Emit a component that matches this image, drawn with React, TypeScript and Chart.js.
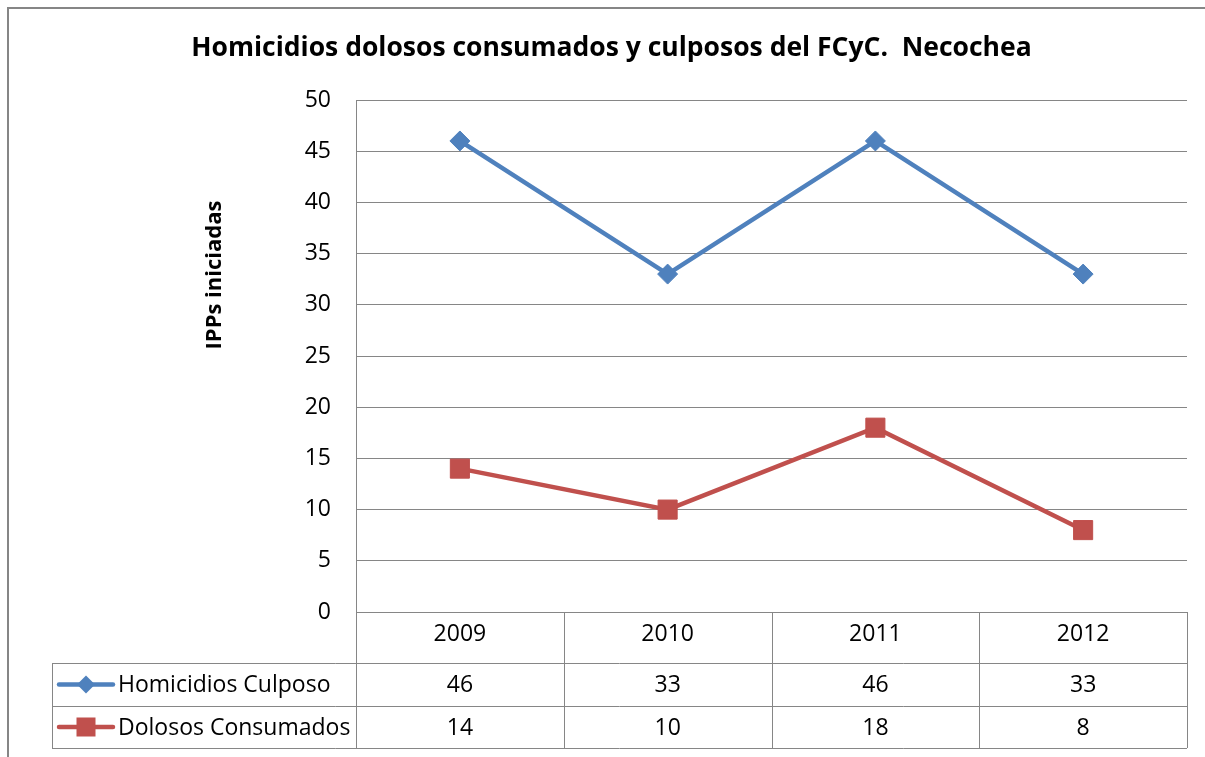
import React, { useEffect, useRef } from "react";
import { Chart, registerables } from "chart.js";

Chart.register(...registerables);

const titleText = "Homicidios dolosos consumados y culposos del FCyC.  Necochea";
const yAxisTitle = "IPPs iniciadas";
const categories = ["2009", "2010", "2011", "2012"];
const seriesNames = ["Homicidios Culposo", "Dolosos Consumados"];
const homicidiosCulposo = [46, 33, 46, 33];
const dolososConsumados = [14, 10, 18, 8];
const yMin = 0;
const yMax = 50;
const yStep = 5;

const FONT = "'Open Sans', 'Noto Sans', sans-serif";
const BODY = 23;
const GRID = "#868686";
const BLUE = "#4F81BD";
const RED = "#C0504D";

const decorPlugin = {
  id: "decor",
  afterDraw(chart: any) {
    const ctx = chart.ctx;
    const area = chart.chartArea;
    const xs = chart.scales.x;
    const n = categories.length;
    const colW = (area.right - area.left) / n;
    const top = area.bottom;
    const hdrB = top + 51;
    const r1B = top + 94;
    const r2B = top + 136;
    const legL = 52;
    ctx.save();
    // outer border
    ctx.strokeStyle = GRID;
    ctx.lineWidth = 2;
    ctx.strokeRect(8, 8, 1400, 1000);
    // y axis title
    ctx.save();
    ctx.translate(215, 275);
    ctx.rotate(-Math.PI / 2);
    ctx.fillStyle = "#000";
    ctx.font = "bold 22px " + FONT;
    ctx.textAlign = "center";
    ctx.textBaseline = "middle";
    ctx.fillText(yAxisTitle, 0, 0);
    ctx.restore();
    // table lines
    ctx.strokeStyle = GRID;
    ctx.lineWidth = 1;
    const h = (x1: number, x2: number, y: number) => {
      ctx.beginPath();
      ctx.moveTo(x1, Math.round(y) + 0.5);
      ctx.lineTo(x2, Math.round(y) + 0.5);
      ctx.stroke();
    };
    const v = (x: number, y1: number, y2: number) => {
      ctx.beginPath();
      ctx.moveTo(Math.round(x) + 0.5, y1);
      ctx.lineTo(Math.round(x) + 0.5, y2);
      ctx.stroke();
    };
    h(area.left, area.right, top);
    h(legL, area.right, hdrB);
    h(legL, area.right, r1B);
    h(legL, area.right, r2B);
    v(legL, hdrB, r2B);
    v(area.left, area.top, r2B);
    for (let i = 1; i <= n; i++) {
      v(area.left + colW * i, top, r2B);
    }
    // values
    ctx.fillStyle = "#000";
    ctx.font = BODY + "px " + FONT;
    ctx.textAlign = "center";
    ctx.textBaseline = "middle";
    const rows = [homicidiosCulposo, dolososConsumados];
    const rowC = [(hdrB + r1B) / 2, (r1B + r2B) / 2];
    rows.forEach((vals, ri) => {
      vals.forEach((val, i) => {
        ctx.fillText(String(val), xs.getPixelForValue(i), rowC[ri] + 1);
      });
    });
    // legend keys
    const colors = [BLUE, RED];
    rowC.forEach((cy, ri) => {
      ctx.strokeStyle = colors[ri];
      ctx.fillStyle = colors[ri];
      ctx.lineWidth = 4.5;
      ctx.lineCap = "round";
      ctx.beginPath();
      ctx.moveTo(59, cy);
      ctx.lineTo(113, cy);
      ctx.stroke();
      const mx = 86;
      if (ri === 0) {
        ctx.beginPath();
        ctx.moveTo(mx - 9, cy);
        ctx.lineTo(mx, cy - 9);
        ctx.lineTo(mx + 9, cy);
        ctx.lineTo(mx, cy + 9);
        ctx.closePath();
        ctx.fill();
      } else {
        ctx.fillRect(mx - 9.5, cy - 9.5, 19, 19);
      }
      ctx.fillStyle = "#000";
      ctx.textAlign = "left";
      ctx.fillText(seriesNames[ri], 118, cy + 1);
    });
    ctx.restore();
  },
};

export default function App() {
  const ref = useRef<HTMLCanvasElement | null>(null);
  useEffect(() => {
    if (!ref.current) return;
    const chart = new Chart(ref.current, {
      type: "line",
      data: {
        labels: categories,
        datasets: [
          {
            label: seriesNames[0],
            data: homicidiosCulposo,
            borderColor: BLUE,
            backgroundColor: BLUE,
            borderWidth: 4.5,
            pointStyle: "rectRot",
            pointRadius: 10,
            pointBorderWidth: 1,
            pointBackgroundColor: BLUE,
            pointBorderColor: BLUE,
            tension: 0,
            clip: false as any,
          },
          {
            label: seriesNames[1],
            data: dolososConsumados,
            borderColor: RED,
            backgroundColor: RED,
            borderWidth: 4.5,
            pointStyle: "rect",
            pointRadius: 13.5,
            pointBorderWidth: 1,
            pointBackgroundColor: RED,
            pointBorderColor: RED,
            tension: 0,
            clip: false as any,
          },
        ],
      },
      options: {
        responsive: false,
        devicePixelRatio: 1,
        animation: false,
        layout: { padding: { left: 36, top: 10, right: 18, bottom: 9 } },
        plugins: {
          legend: { display: false },
          tooltip: { enabled: false },
          title: {
            display: true,
            text: titleText,
            color: "#000",
            font: { family: FONT, size: 26.5, weight: "bold", lineHeight: 1.2 },
            padding: { top: 23, bottom: 35.2 },
          },
        },
        scales: {
          x: {
            type: "category",
            offset: true,
            grid: { display: false, drawTicks: false },
            border: { display: false },
            ticks: { color: "#000", font: { family: FONT, size: BODY }, padding: 9, maxRotation: 0 },
            afterFit: (s: any) => {
              s.height = 136;
            },
          },
          y: {
            min: yMin,
            max: yMax,
            ticks: { stepSize: yStep, color: "#000", font: { family: FONT, size: BODY }, padding: 25 },
            grid: { color: GRID, lineWidth: 1, drawTicks: false },
            border: { display: true, color: GRID, width: 1 },
            afterFit: (s: any) => {
              s.width = 320;
            },
          },
        },
      },
      plugins: [decorPlugin],
    });
    return () => chart.destroy();
  }, []);
  return (
    <div style={{ position: "absolute", left: 0, top: 0, width: 1205, height: 757, background: "#fff" }}>
      <canvas ref={ref} width={1205} height={757} />
    </div>
  );
}
